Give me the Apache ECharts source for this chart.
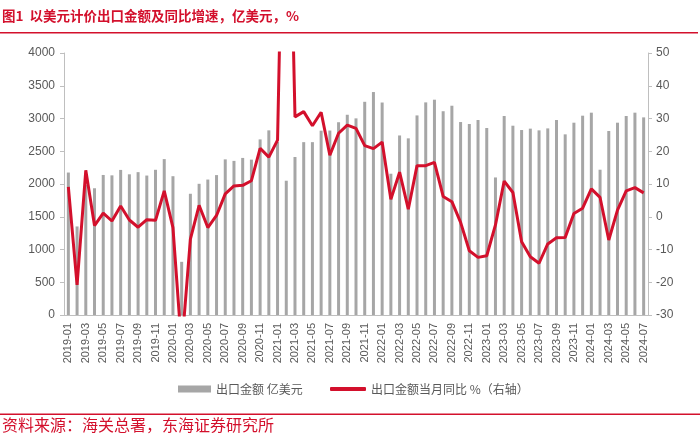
<!DOCTYPE html>
<html>
<head>
<meta charset="utf-8">
<script src="https://cdn.jsdelivr.net/npm/echarts@6/dist/echarts.min.js"></script>
<style>
html, body { margin: 0; padding: 0; background: #fff; }
#chart { width: 700px; height: 437px; }
</style>
</head>
<body>
<div id="chart"></div>
<script>
var months = [
  '2019-01','2019-02','2019-03','2019-04','2019-05','2019-06','2019-07','2019-08','2019-09','2019-10','2019-11','2019-12',
  '2020-01','2020-02','2020-03','2020-04','2020-05','2020-06','2020-07','2020-08','2020-09','2020-10','2020-11','2020-12',
  '2021-01','2021-02','2021-03','2021-04','2021-05','2021-06','2021-07','2021-08','2021-09','2021-10','2021-11','2021-12',
  '2022-01','2022-02','2022-03','2022-04','2022-05','2022-06','2022-07','2022-08','2022-09','2022-10','2022-11','2022-12',
  '2023-01','2023-02','2023-03','2023-04','2023-05','2023-06','2023-07','2023-08','2023-09','2023-10','2023-11','2023-12',
  '2024-01','2024-02','2024-03','2024-04','2024-05','2024-06','2024-07'
];

// 出口金额 亿美元
var exportAmt = [
  2175, 1352, 1987, 1935, 2138, 2132, 2215, 2148, 2181, 2129, 2217, 2380,
  2119, 812, 1851, 2003, 2068, 2136, 2376, 2353, 2398, 2372, 2681, 2819,
  2641, 2050, 2412, 2639, 2639, 2814, 2816, 2943, 3057, 3002, 3255, 3404,
  3244, 2157, 2741, 2697, 3047, 3246, 3287, 3111, 3195, 2946, 2916, 2977,
  2855, 2100, 3038, 2890, 2824, 2845, 2819, 2849, 2977, 2758, 2936, 3043,
  3089, 2218, 2809, 2936, 3038, 3089, 3017
];

// 出口金额当月同比 %
var exportYoy = [
  9.1, -20.8, 14.2, -2.7, 1.1, -1.3, 3.3, -1.0, -3.2, -0.9, -1.1, 7.9,
  -3.3, -40.2, -6.8, 3.5, -3.3, 0.4, 7.0, 9.4, 9.6, 11.0, 20.9, 18.2,
  23.4, 152.5, 30.5, 32.1, 27.8, 31.9, 18.8, 25.5, 28.0, 27.0, 21.7, 20.8,
  22.8, 5.3, 13.6, 2.3, 15.6, 15.6, 16.6, 6.2, 4.6, -1.7, -10.4, -12.4,
  -11.9, -2.5, 10.9, 7.4, -7.6, -12.2, -14.2, -8.3, -6.4, -6.3, 1.0, 2.6,
  8.5, 5.9, -7.1, 2.0, 7.9, 8.9, 7.3
];

var red = '#d3102c';
var txt = '#595959';
var axisCol = '#bfbfbf';
var cjk = '"Noto Sans CJK SC", sans-serif';
var num = '"Liberation Sans", Arial, sans-serif';

var myChart = echarts.init(document.getElementById('chart'), null, { renderer: 'canvas' });

var option = {
  animation: false,
  backgroundColor: '#fff',
  grid: { left: 64, right: 52, top: 53, bottom: 122 },
  graphic: [
    { type: 'text', left: 2, top: 9,
      style: { text: '图1  以美元计价出口金额及同比增速，亿美元，%', fill: red,
               font: 'bold 13.5px ' + cjk } },
    { type: 'rect', shape: { x: 0, y: 32, width: 698, height: 1.5 }, style: { fill: red } },
    { type: 'rect', shape: { x: 0, y: 413.5, width: 700, height: 1.5 }, style: { fill: red } },
    { type: 'text', left: 2, top: 417,
      style: { text: '资料来源：海关总署，东海证券研究所', fill: red,
               font: '16px ' + cjk } }
  ],
  legend: [
    { data: ['出口金额 亿美元'], left: 178, top: 383, icon: 'rect', padding: 0,
      itemWidth: 33, itemHeight: 7,
      textStyle: { color: txt, fontSize: 12, fontFamily: cjk } },
    { data: ['出口金额当月同比 %（右轴）'], left: 330, top: 383, icon: 'roundRect', padding: 0,
      itemWidth: 36, itemHeight: 4,
      textStyle: { color: txt, fontSize: 12, fontFamily: cjk } }
  ],
  xAxis: {
    type: 'category',
    data: months,
    boundaryGap: true,
    axisLine: { lineStyle: { color: axisCol, width: 1 } },
    axisTick: { interval: 0, length: 4, lineStyle: { color: axisCol } },
    axisLabel: { interval: 1, rotate: 90, color: txt, fontSize: 11, fontFamily: num, margin: 8 }
  },
  yAxis: [
    {
      type: 'value', min: 0, max: 4000, interval: 500,
      splitLine: { show: false },
      axisLine: { show: true, lineStyle: { color: axisCol } },
      axisTick: { show: true, length: 4, lineStyle: { color: axisCol } },
      axisLabel: { color: txt, fontSize: 12, fontFamily: num, margin: 9,
                   formatter: function (v) { return String(v); } }
    },
    {
      type: 'value', min: -30, max: 50, interval: 10,
      splitLine: { show: false },
      axisLine: { show: true, lineStyle: { color: axisCol } },
      axisTick: { show: true, length: 4, lineStyle: { color: axisCol } },
      axisLabel: { color: txt, fontSize: 12, fontFamily: num, margin: 8 }
    }
  ],
  series: [
    {
      name: '出口金额 亿美元',
      type: 'bar',
      data: exportAmt,
      barWidth: 3,
      itemStyle: { color: '#a6a6a6' }
    },
    {
      name: '出口金额当月同比 %（右轴）',
      type: 'line',
      yAxisIndex: 1,
      data: exportYoy,
      clip: true,
      symbol: 'none',
      lineStyle: { color: red, width: 3 },
      itemStyle: { color: red }
    }
  ]
};
myChart.setOption(option);
</script>
</body>
</html>
